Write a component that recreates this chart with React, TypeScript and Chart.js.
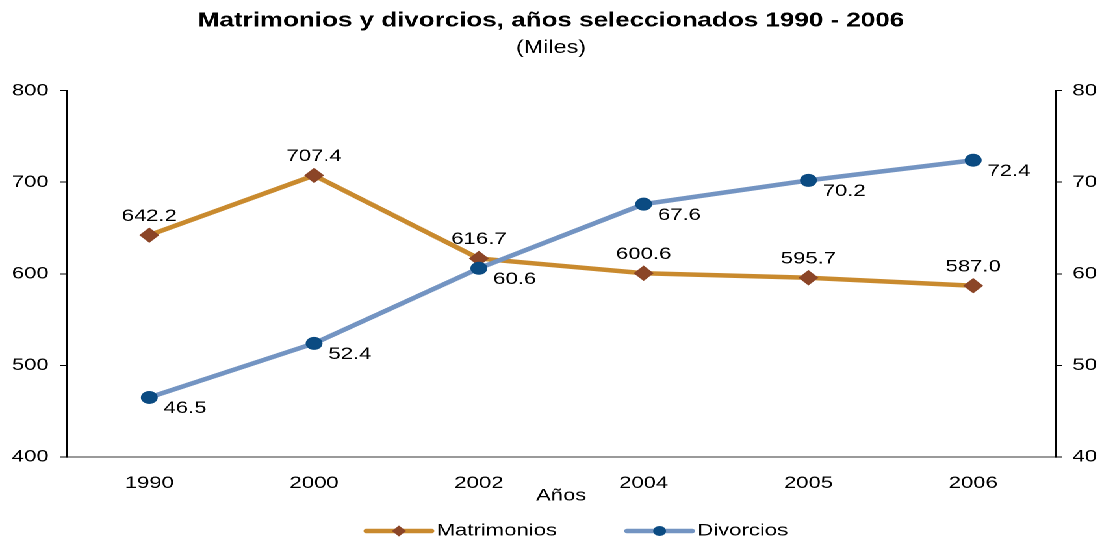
import React, { useEffect, useRef } from 'react';
import { Chart, registerables } from 'chart.js';

Chart.register(...registerables);

// ---- data ----
const categories = ['1990', '2000', '2002', '2004', '2005', '2006'];
const matrimonios = [642.2, 707.4, 616.7, 600.6, 595.7, 587.0];
const divorcios = [46.5, 52.4, 60.6, 67.6, 70.2, 72.4];
const leftAxis = { min: 400, max: 800, step: 100 };
const rightAxis = { min: 40, max: 80, step: 10 };
const seriesNames = ['Matrimonios', 'Divorcios'];
const titleText = 'Matrimonios y divorcios, años seleccionados 1990 - 2006';
const subtitleText = '(Miles)';
const xTitle = 'Años';

// ---- layout (the reference is horizontally stretched) ----
const W = 848;
const H = 539;
const SX = 1102 / W;
const FONT = "'Liberation Sans', Arial, Helvetica, sans-serif";

const C_MAT_LINE = '#C98A2E';
const C_MAT_PT = '#8B4527';
const C_DIV_LINE = '#7394C2';
const C_DIV_PT = '#0B4B82';

const valueLabels = {
  id: 'valueLabels',
  afterDatasetsDraw(chart: any, _args: any, opts: any) {
    const ctx = chart.ctx;
    ctx.save();
    ctx.font = `17px ${FONT}`;
    ctx.fillStyle = '#000';
    ctx.textBaseline = 'middle';
    chart.data.datasets.forEach((ds: any, di: number) => {
      const meta = chart.getDatasetMeta(di);
      const place = opts.placements[di];
      meta.data.forEach((pt: any, i: number) => {
        const text = Number(ds.data[i]).toFixed(1);
        if (place === 'above') {
          ctx.textAlign = 'center';
          ctx.fillText(text, pt.x, pt.y - 19);
        } else {
          ctx.textAlign = 'left';
          ctx.fillText(text, pt.x + 11, pt.y + 11);
        }
      });
    });
    ctx.restore();
  },
};

const lineLegend = {
  id: 'lineLegend',
  afterDraw(chart: any, _args: any, opts: any) {
    const ctx = chart.ctx;
    ctx.save();
    ctx.font = `17px ${FONT}`;
    ctx.textBaseline = 'middle';
    ctx.textAlign = 'left';
    let x = opts.x;
    const y = opts.y;
    chart.data.datasets.forEach((ds: any, di: number) => {
      ctx.strokeStyle = ds.borderColor;
      ctx.lineWidth = opts.lineWidth;
      ctx.lineCap = 'round';
      ctx.beginPath();
      ctx.moveTo(x, y);
      ctx.lineTo(x + opts.lineLen, y);
      ctx.stroke();
      const cx = x + opts.lineLen / 2;
      ctx.fillStyle = ds.pointBackgroundColor;
      ctx.beginPath();
      if (ds.pointStyle === 'rectRot') {
        const r = opts.markerR + 0.5;
        ctx.moveTo(cx, y - r);
        ctx.lineTo(cx + r, y);
        ctx.lineTo(cx, y + r);
        ctx.lineTo(cx - r, y);
        ctx.closePath();
      } else {
        ctx.arc(cx, y, opts.markerR, 0, Math.PI * 2);
      }
      ctx.fill();
      ctx.fillStyle = '#000';
      const tx = x + opts.lineLen + opts.textGap;
      ctx.fillText(ds.label, tx, y);
      x = tx + ctx.measureText(ds.label).width + opts.gap;
    });
    ctx.restore();
  },
};

export default function App() {
  const ref = useRef<HTMLCanvasElement | null>(null);

  useEffect(() => {
    if (!ref.current) return;
    const tickFont = { size: 17, family: FONT };
    const chart = new Chart(ref.current, {
      type: 'line',
      data: {
        labels: categories,
        datasets: [
          {
            label: seriesNames[0],
            data: matrimonios,
            yAxisID: 'y',
            borderColor: C_MAT_LINE,
            backgroundColor: C_MAT_LINE,
            borderWidth: 4.5,
            tension: 0,
            fill: false,
            pointStyle: 'rectRot',
            pointRadius: 7,
            pointBackgroundColor: C_MAT_PT,
            pointBorderColor: C_MAT_PT,
            pointBorderWidth: 1,
            order: 1,
          },
          {
            label: seriesNames[1],
            data: divorcios,
            yAxisID: 'y1',
            borderColor: C_DIV_LINE,
            backgroundColor: C_DIV_LINE,
            borderWidth: 4.5,
            tension: 0,
            fill: false,
            pointStyle: 'circle',
            pointRadius: 6,
            pointBackgroundColor: C_DIV_PT,
            pointBorderColor: C_DIV_PT,
            pointBorderWidth: 1,
            order: 0,
          },
        ],
      },
      options: {
        animation: false,
        responsive: true,
        maintainAspectRatio: false,
        devicePixelRatio: 2,
        layout: { padding: { top: 0, left: 0, right: 0, bottom: 32 } },
        plugins: {
          legend: { display: false },
          tooltip: { enabled: false },
          title: {
            display: true,
            text: titleText,
            color: '#000',
            font: { size: 20, weight: 'bold', family: FONT },
            padding: { top: 9, bottom: 0 },
          },
          subtitle: {
            display: true,
            text: subtitleText,
            color: '#000',
            font: { size: 18, family: FONT },
            padding: { top: 4, bottom: 32 },
          },
          valueLabels: { placements: ['above', 'right'] },
          lineLegend: { x: 282, y: 531, lineLen: 50, textGap: 4, gap: 54, lineWidth: 4.5, markerR: 5 },
        } as any,
        scales: {
          x: {
            type: 'category',
            offset: true,
            grid: { display: false, drawTicks: false },
            border: { display: true, color: '#9a9a9a', width: 2 },
            ticks: { color: '#000', font: tickFont, padding: 16, maxRotation: 0, autoSkip: false },
            title: {
              display: true,
              text: xTitle,
              color: '#000',
              font: tickFont,
              padding: { top: 0, bottom: 1 },
            },
            afterFit: (s: any) => {
              s.height = 50;
            },
          },
          y: {
            position: 'left',
            min: leftAxis.min,
            max: leftAxis.max,
            ticks: { stepSize: leftAxis.step, color: '#000', font: tickFont, padding: 9 },
            grid: { display: true, drawOnChartArea: false, drawTicks: true, tickLength: 5, color: '#000', lineWidth: 1 },
            border: { display: true, color: '#000', width: 1 },
            afterFit: (s: any) => {
              s.width = 51.5;
            },
          },
          y1: {
            position: 'right',
            min: rightAxis.min,
            max: rightAxis.max,
            ticks: { stepSize: rightAxis.step, color: '#000', font: tickFont, padding: 8 },
            grid: { display: true, drawOnChartArea: false, drawTicks: true, tickLength: 5, color: '#000', lineWidth: 1 },
            border: { display: true, color: '#000', width: 1 },
            afterFit: (s: any) => {
              s.width = W - 812.3;
            },
          },
        },
      } as any,
      plugins: [valueLabels, lineLegend],
    });
    return () => chart.destroy();
  }, []);

  return (
    <div
      style={{
        position: 'fixed',
        left: 0,
        top: 0,
        width: W,
        height: H,
        transform: `scaleX(${SX})`,
        transformOrigin: '0 0',
        background: '#fff',
      }}
    >
      <div style={{ position: 'relative', width: W, height: H }}>
        <canvas ref={ref} />
      </div>
    </div>
  );
}
